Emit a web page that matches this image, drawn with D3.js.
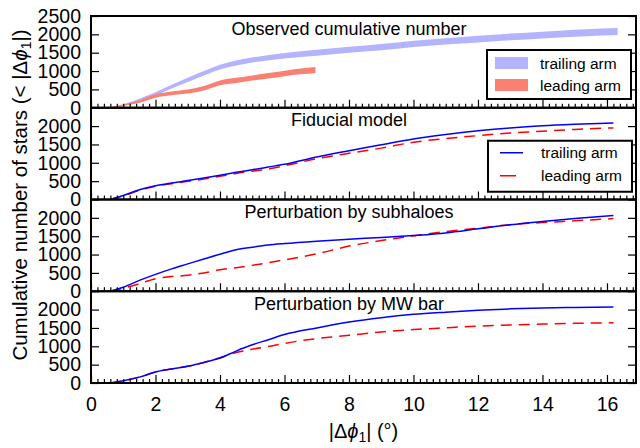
<!DOCTYPE html>
<html>
<head>
<meta charset="utf-8">
<script src="https://cdn.jsdelivr.net/npm/d3@7"></script>
<style>
  body { margin: 0; background: #fff; }
  svg text { font-family: "Liberation Sans", Arial, sans-serif; fill: #000; }
</style>
</head>
<body>
<div id="chart"></div>
<script>
// Panel titles
const panelTitles = ["Observed cumulative number", "Fiducial model", "Perturbation by subhaloes", "Perturbation by MW bar"];

// Observed cumulative number (bands: value +/- err)
const obsTrailX = [0.6, 1.0, 1.5, 2.0, 2.5, 3.0, 3.5, 4.0, 4.5, 5.0, 6.0, 7.0, 8.0, 9.0, 10.0, 11.0, 12.0, 13.0, 14.0, 15.0, 16.33];
const obsTrailY = [0, 80, 215, 380, 575, 760, 940, 1110, 1220, 1300, 1420, 1500, 1580, 1650, 1740, 1810, 1870, 1930, 1980, 2030, 2075];
const obsTrailErr = [0, 15, 30, 40, 50, 55, 60, 65, 70, 70, 75, 80, 80, 85, 85, 85, 90, 90, 90, 95, 95];
const obsLeadX = [0.6, 1.0, 1.5, 2.0, 2.5, 3.0, 3.5, 4.0, 4.5, 5.0, 5.5, 6.0, 6.5, 6.96];
const obsLeadY = [0, 70, 170, 320, 390, 440, 530, 680, 745, 810, 870, 935, 990, 1030];
const obsLeadErr = [0, 20, 35, 45, 50, 55, 60, 65, 70, 70, 75, 75, 80, 80];

// Model curves (shared x grid)
const modelX = [0.6, 1.0, 1.5, 2.0, 2.5, 3.0, 3.5, 4.0, 4.5, 5.0, 5.5, 6.0, 7.0, 8.0, 9.0, 10.0, 11.0, 12.0, 13.0, 14.0, 15.0, 16.2];
const fidTrail = [0, 110, 265, 375, 450, 515, 585, 660, 740, 810, 885, 960, 1160, 1330, 1490, 1650, 1770, 1870, 1950, 2010, 2050, 2085];
const fidLead  = [0, 100, 250, 360, 430, 495, 555, 630, 710, 770, 830, 920, 1110, 1260, 1400, 1560, 1660, 1740, 1810, 1860, 1910, 1950];
const subTrail = [0, 110, 295, 460, 610, 745, 880, 1010, 1130, 1200, 1260, 1300, 1365, 1420, 1465, 1520, 1590, 1700, 1810, 1900, 1980, 2065];
const subLead  = [0, 80, 205, 340, 400, 435, 500, 585, 640, 705, 780, 855, 1020, 1230, 1380, 1510, 1625, 1720, 1815, 1870, 1920, 1980];
const barTrail = [0, 60, 160, 300, 380, 455, 560, 680, 870, 1040, 1180, 1320, 1500, 1660, 1780, 1870, 1930, 1980, 2020, 2045, 2060, 2070];
const barLead  = [0, 60, 160, 300, 380, 455, 560, 690, 830, 920, 995, 1080, 1210, 1300, 1390, 1455, 1505, 1550, 1580, 1605, 1625, 1640];

// Tick values
const xTicks = [0, 2, 4, 6, 8, 10, 12, 14, 16];
const yTicksTop = [0, 500, 1000, 1500, 2000, 2500];
const yTicks = [0, 500, 1000, 1500, 2000];
const legendLabels = ["trailing arm", "leading arm"];

// Layout
const margin = { top: 16, left: 91 };
const W = 545;
const PH = (383 - 16) / 4;

const svg = d3.select("#chart").append("svg")
    .attr("width", 640)
    .attr("height", 448);

const x = d3.scaleLinear().domain([0, 16.9]).range([0, W]);
const y = d3.scaleLinear().domain([0, 2500]).range([PH, 0]);

const minorTicks = d3.range(0, 85).map(i => +(i * 0.2).toFixed(1)).filter(v => !xTicks.includes(v));

const modelSeries = [
    [fidTrail, fidLead],
    [subTrail, subLead],
    [barTrail, barLead]
];

const line = d3.line().x(d => x(d[0])).y(d => y(d[1])).curve(d3.curveMonotoneX);
const area = d3.area().x(d => x(d[0])).y0(d => y(d[1] - d[2])).y1(d => y(d[1] + d[2])).curve(d3.curveMonotoneX);

for (let i = 0; i < 4; i++) {
    const g = svg.append("g").attr("transform", `translate(${margin.left},${margin.top + i * PH})`);

    if (i === 0) {
        // Observed bands
        g.append("path")
            .datum(obsTrailX.map((v, k) => [v, obsTrailY[k], Math.max(obsTrailErr[k], 12)]))
            .attr("d", area)
            .attr("fill", "#b3b3ff");
        g.append("path")
            .datum(obsLeadX.map((v, k) => [v, obsLeadY[k], Math.max(obsLeadErr[k], 12)]))
            .attr("d", area)
            .attr("fill", "#f98073");
    } else {
        const s = modelSeries[i - 1];
        g.append("path")
            .datum(modelX.map((v, k) => [v, s[1][k]]))
            .attr("d", line)
            .attr("fill", "none")
            .attr("stroke", "#ff0000")
            .attr("stroke-width", 1.5)
            .attr("stroke-dasharray", "11,7");
        g.append("path")
            .datum(modelX.map((v, k) => [v, s[0][k]]))
            .attr("d", line)
            .attr("fill", "none")
            .attr("stroke", "#0000ff")
            .attr("stroke-width", 1.5);
    }

    // Axes (ticks inward)
    const last = i === 3;
    g.append("g")
        .attr("class", "axis")
        .attr("transform", `translate(0,${PH})`)
        .call(d3.axisBottom(x).tickValues(xTicks).tickSize(-8).tickPadding(14)
            .tickFormat(last ? d3.format("d") : ""));
    g.append("g")
        .attr("class", "axis")
        .attr("transform", `translate(0,${PH})`)
        .call(d3.axisBottom(x).tickValues(minorTicks).tickSize(-4).tickFormat(""));
    g.append("g")
        .attr("class", "axis")
        .call(d3.axisLeft(y).tickValues(i === 0 ? yTicksTop : yTicks).tickSize(-8).tickPadding(10)
            .tickFormat(d3.format("d")));
    g.append("g")
        .attr("class", "axis")
        .attr("transform", `translate(${W},0)`)
        .call(d3.axisRight(y).tickValues(i === 0 ? yTicksTop : yTicks).tickSize(-8).tickFormat(""));

    // Frame
    g.append("rect")
        .attr("width", W)
        .attr("height", PH)
        .attr("fill", "none")
        .attr("stroke", "#000")
        .attr("stroke-width", 2);

    // Title
    g.append("text")
        .attr("x", x(8))
        .attr("y", 18.5)
        .attr("text-anchor", "middle")
        .style("font-size", "18px")
        .text(panelTitles[i]);

    // Legends
    if (i < 2) {
        const lg = g.append("g").attr("transform", `translate(${396 + i},${i === 0 ? 34 : 33})`);
        lg.append("rect")
            .attr("width", 144)
            .attr("height", i === 0 ? 49 : 51)
            .attr("fill", "#fff")
            .attr("stroke", "#000")
            .attr("stroke-width", 2);
        legendLabels.forEach((lab, k) => {
            const cy = i === 0 ? 13 + k * 22 : 12 + k * 23;
            if (i === 0) {
                lg.append("rect")
                    .attr("x", 8).attr("y", cy - 6)
                    .attr("width", 33).attr("height", 12)
                    .attr("fill", k === 0 ? "#b3b3ff" : "#f98073");
            } else {
                lg.append("line")
                    .attr("x1", 12).attr("x2", 35)
                    .attr("y1", cy).attr("y2", cy)
                    .attr("stroke", k === 0 ? "#0000ff" : "#ff0000")
                    .attr("stroke-width", 1.5)
                    .attr("stroke-dasharray", k === 0 ? null : "16,7");
            }
            lg.append("text")
                .attr("x", 53)
                .attr("y", cy + 5.5)
                .style("font-size", "15.5px")
                .text(lab);
        });
    }
}

svg.selectAll(".axis .domain").remove();
svg.selectAll(".axis line").attr("stroke", "#000").attr("stroke-width", 1.2);
svg.selectAll(".axis text").style("font-size", "19.5px").attr("fill", "#000");

// X label
const xl = svg.append("text")
    .attr("x", margin.left + W / 2)
    .attr("y", 438)
    .attr("text-anchor", "middle")
    .style("font-size", "20px");
xl.append("tspan").text("|Δ");
xl.append("tspan").style("font-style", "italic").text("ϕ");
xl.append("tspan").attr("baseline-shift", "-25%").style("font-size", "14px").text("1");
xl.append("tspan").text("| (°)");

// Y label
const yl = svg.append("text")
    .attr("transform", "translate(27,195) rotate(-90)")
    .attr("text-anchor", "middle")
    .style("font-size", "20.5px");
yl.append("tspan").text("Cumulative number of stars (< |Δ");
yl.append("tspan").style("font-style", "italic").text("ϕ");
yl.append("tspan").attr("baseline-shift", "-25%").style("font-size", "14px").text("1");
yl.append("tspan").text("|)");
</script>
</body>
</html>
